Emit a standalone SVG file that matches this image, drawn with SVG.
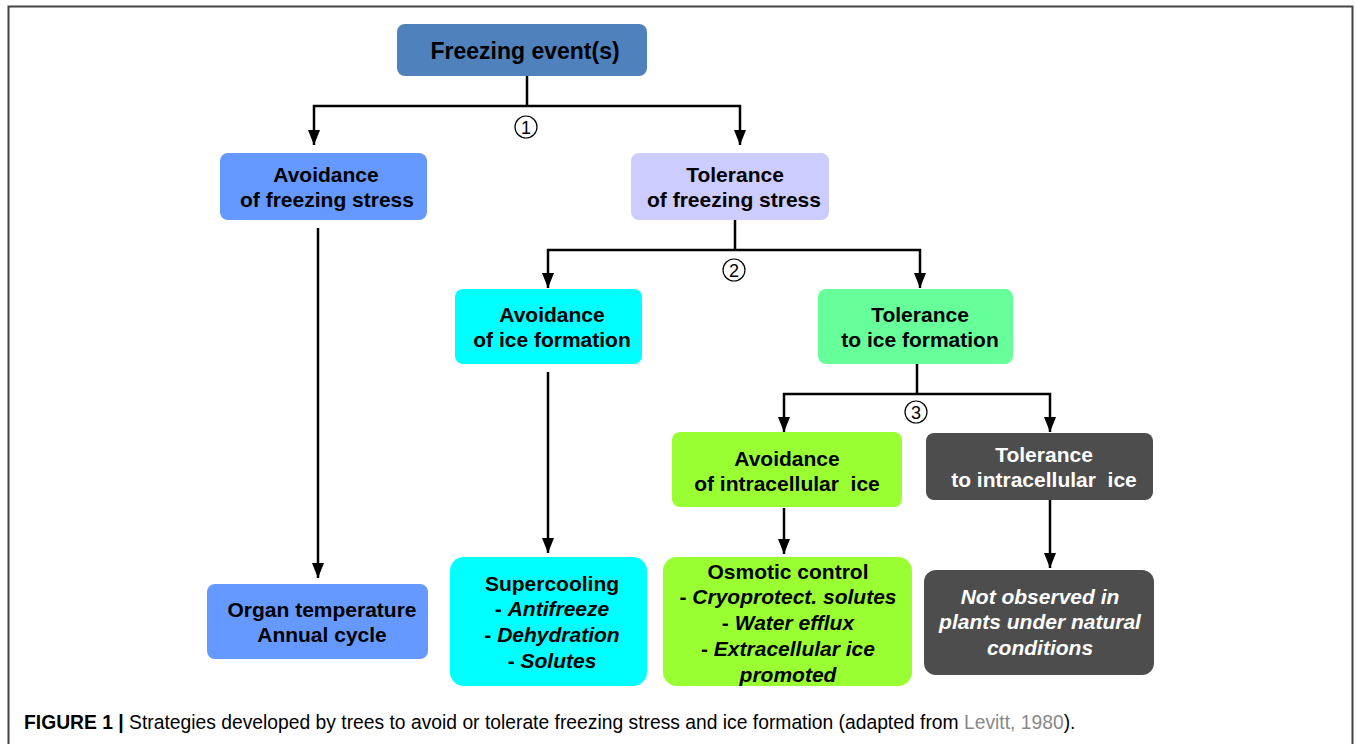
<svg xmlns="http://www.w3.org/2000/svg" width="1356" height="744" viewBox="0 0 1356 744">
<style>
.t{font-family:"Liberation Sans",Arial,sans-serif;font-weight:bold;font-size:21px;text-anchor:middle;fill:#000}
.w{fill:#fff}
.i{font-style:italic}
.c{fill:none;stroke:#000;stroke-width:2.5}
.n{font-family:"Liberation Sans",Arial,sans-serif;font-size:18px;text-anchor:middle;fill:#000}
.cap{font-family:"Liberation Sans",Arial,sans-serif;font-size:19.3px;fill:#000}
</style>
<defs>
<marker id="a" viewBox="0 0 15 12" refX="15" refY="6" markerWidth="15" markerHeight="12" markerUnits="userSpaceOnUse" orient="auto-start-reverse">
<path d="M0,0 L15,6 L0,12 Z" fill="#000"/>
</marker>
</defs>
<rect width="1356" height="744" fill="#fff"/>
<path d="M8.5,750 V6.5 H1352.5 V750" fill="none" stroke="#444" stroke-width="2"/>

<g id="connectors">
<path class="c" d="M527,76 V106"/>
<path class="c" d="M314,145 V106 H740 V145" marker-start="url(#a)" marker-end="url(#a)"/>
<circle cx="526" cy="127" r="11" fill="#fff" stroke="#000" stroke-width="1.2"/>
<text class="n" x="526" y="133.5">1</text>
<path class="c" d="M318,228 V578" marker-end="url(#a)"/>
<path class="c" d="M735,220 V250"/>
<path class="c" d="M548,288 V250 H920 V288" marker-start="url(#a)" marker-end="url(#a)"/>
<circle cx="734" cy="270" r="11" fill="#fff" stroke="#000" stroke-width="1.2"/>
<text class="n" x="734" y="276.5">2</text>
<path class="c" d="M548,372 V553" marker-end="url(#a)"/>
<path class="c" d="M917,364 V394"/>
<path class="c" d="M784,432 V394 H1050 V432" marker-start="url(#a)" marker-end="url(#a)"/>
<circle cx="916" cy="412" r="11" fill="#fff" stroke="#000" stroke-width="1.2"/>
<text class="n" x="916" y="418.5">3</text>
<path class="c" d="M784,508 V554" marker-end="url(#a)"/>
<path class="c" d="M1050,500 V568" marker-end="url(#a)"/>
</g>

<g id="freezing-event">
<rect x="397" y="24" width="250" height="52" rx="8" fill="#4F81BD"/>
<text class="t" x="525" y="59" style="font-size:23px">Freezing event(s)</text>
</g>
<g id="avoid-freezing-stress">
<rect x="220" y="153" width="207" height="67" rx="8" fill="#6699FF"/>
<text class="t" x="326" y="182">Avoidance</text>
<text class="t" x="327" y="207">of freezing stress</text>
</g>
<g id="tolerate-freezing-stress">
<rect x="631" y="153" width="198" height="67" rx="8" fill="#CCCCFF"/>
<text class="t" x="735" y="182">Tolerance</text>
<text class="t" x="734" y="207">of freezing stress</text>
</g>
<g id="avoid-ice-formation">
<rect x="455" y="289" width="187" height="75" rx="8" fill="#00FFFF"/>
<text class="t" x="552" y="322">Avoidance</text>
<text class="t" x="552" y="347">of ice formation</text>
</g>
<g id="tolerate-ice-formation">
<rect x="818" y="289" width="195" height="75" rx="8" fill="#66FF99"/>
<text class="t" x="920" y="322">Tolerance</text>
<text class="t" x="920" y="347">to ice formation</text>
</g>
<g id="avoid-intracellular-ice">
<rect x="672" y="432" width="230" height="75" rx="8" fill="#99FF33"/>
<text class="t" x="787" y="466">Avoidance</text>
<text class="t" x="787" y="491">of intracellular&#160; ice</text>
</g>
<g id="tolerate-intracellular-ice">
<rect x="926" y="433" width="227" height="67" rx="8" fill="#4D4D4D"/>
<text class="t w" x="1044" y="462">Tolerance</text>
<text class="t w" x="1044" y="487">to intracellular&#160; ice</text>
</g>
<g id="organ-temperature">
<rect x="207" y="584" width="221" height="75" rx="8" fill="#6699FF"/>
<text class="t" x="322" y="617">Organ temperature</text>
<text class="t" x="322" y="642">Annual cycle</text>
</g>
<g id="supercooling">
<rect x="450" y="557" width="197" height="129" rx="14" fill="#00FFFF"/>
<text class="t" x="552" y="591">Supercooling</text>
<text class="t" x="552" y="616">- <tspan class="i">Antifreeze</tspan></text>
<text class="t" x="552" y="642">- <tspan class="i">Dehydration</tspan></text>
<text class="t" x="552" y="668">- <tspan class="i">Solutes</tspan></text>
</g>
<g id="osmotic-control">
<rect x="663" y="557" width="249" height="129" rx="14" fill="#99FF33"/>
<text class="t" x="788" y="579">Osmotic control</text>
<text class="t" x="788" y="604">- <tspan class="i">Cryoprotect. solutes</tspan></text>
<text class="t" x="788" y="630">- <tspan class="i">Water efflux</tspan></text>
<text class="t" x="788" y="656">- <tspan class="i">Extracellular ice</tspan></text>
<text class="t i" x="788" y="682">promoted</text>
</g>
<g id="not-observed">
<rect x="924" y="570" width="230" height="105" rx="12" fill="#4D4D4D"/>
<text class="t w i" x="1040" y="604">Not observed in</text>
<text class="t w i" x="1040" y="629">plants under natural</text>
<text class="t w i" x="1040" y="655">conditions</text>
</g>

<text class="cap" x="24" y="729"><tspan font-weight="bold">FIGURE 1 |</tspan> Strategies developed by trees to avoid or tolerate freezing stress and ice formation (adapted from <tspan fill="#888">Levitt, 1980</tspan>).</text>
</svg>
